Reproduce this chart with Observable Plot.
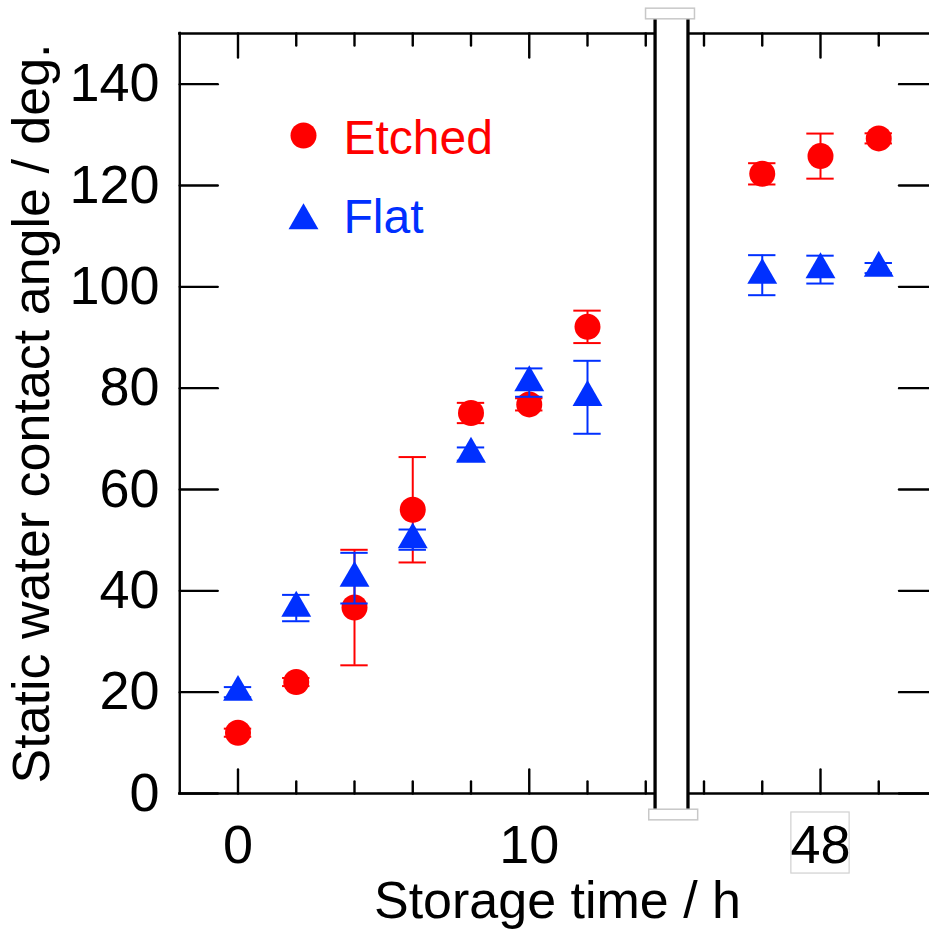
<!DOCTYPE html>
<html><head><meta charset="utf-8">
<script src="https://cdn.jsdelivr.net/npm/d3@7"></script>
<script src="https://cdn.jsdelivr.net/npm/@observablehq/plot@0.6"></script>
<style>html,body{margin:0;padding:0;background:#fff;overflow:hidden}</style>
</head><body><div id="chart"></div>
<script>
// ---- data (storage time in hours, contact angle in degrees) ----
const hours       = [0, 2, 4, 6, 8, 10, 12, 46, 48, 50];
const etchedAngle = [12.0, 22.0, 36.7, 56.0, 75.1, 76.8, 92.1, 122.3, 125.8, 129.3];
const etchedError = [0.8, 0.8, 11.4, 10.4, 2.0, 1.2, 3.2, 2.1, 4.45, 1.0];
const flatAngle   = [20.0, 36.6, 42.5, 50.1, 67.0, 81.1, 78.2, 102.3, 103.4, 103.7];
const flatError   = [1.0, 2.6, 5.0, 2.0, 1.3, 2.8, 7.2, 3.95, 2.75, 1.0];
const seriesNames = ["Etched", "Flat"];

// axis ticks
const yTickValues   = [0, 20, 40, 60, 80, 100, 120, 140];
const xTickHours    = [0, 2, 4, 6, 8, 10, 12, 14, 44, 46, 48, 50];
const xMajorHours   = [0, 10, 48];
const xTickLabels   = ["0", "10", "48"];
const xLabel = "Storage time / h";
const yLabel = "Static water contact angle / deg.";

// ---- axis break: hours 14.3 .. 43.5 are cut out ----
const breakGap = 28;
const disp = t => (t > 30 ? t - breakGap : t);
const xDomain = [-2, 24], yDomain = [0, 150];
const breakLeft = 14.32, breakRight = 15.45;

const FONT = "'Liberation Sans', Arial, Helvetica, sans-serif";
const RED = "#ff0000", BLUE = "#0030ff";

const etched = hours.map((t, i) => ({t, v: etchedAngle[i], e: etchedError[i]}));
const flat = hours.map((t, i) => ({t, v: flatAngle[i], e: flatError[i]}));

const capHalf = 0.47;
const tickShape = {draw(ctx, l) { ctx.moveTo(0, 0); ctx.lineTo(0, -l); }};
const tickLen = t => (xMajorHours.includes(t) ? 38 : 19);

function errorMarks(data, color) {
  return [
    Plot.ruleX(data, {x: d => disp(d.t), y1: d => d.v - d.e, y2: d => d.v + d.e, stroke: color, strokeWidth: 2}),
    Plot.ruleY(data, {y: d => d.v + d.e, x1: d => disp(d.t) - capHalf, x2: d => disp(d.t) + capHalf, stroke: color, strokeWidth: 2}),
    Plot.ruleY(data, {y: d => d.v - d.e, x1: d => disp(d.t) - capHalf, x2: d => disp(d.t) + capHalf, stroke: color, strokeWidth: 2})
  ];
}

const axisStyle = {stroke: "black", strokeWidth: 2.4};

const plot = Plot.plot({
  width: 929,
  height: 933,
  marginLeft: 179,
  marginRight: 0,
  marginTop: 33,
  marginBottom: 140,
  style: {fontFamily: FONT, background: "white", color: "black"},
  x: {domain: xDomain, range: [179.25, 936.5], axis: null},
  y: {domain: yDomain, axis: null},
  marks: [
    // frame
    Plot.ruleX([xDomain[0]], {x: d => d, y1: () => yDomain[0], y2: () => yDomain[1], ...axisStyle, strokeLinecap: "square"}),
    Plot.ruleX([xDomain[1]], {x: d => d, y1: () => yDomain[0], y2: () => yDomain[1], ...axisStyle}),
    Plot.ruleY([yDomain[0], yDomain[1]], {y: d => d, x1: () => xDomain[0], x2: () => xDomain[1], ...axisStyle, strokeLinecap: "square"}),
    // inward ticks
    Plot.vector(xTickHours, {x: d => disp(d), y: () => yDomain[0], length: tickLen, rotate: 0, anchor: "start", shape: tickShape, ...axisStyle}),
    Plot.vector(xTickHours, {x: d => disp(d), y: () => yDomain[1], length: tickLen, rotate: 180, anchor: "start", shape: tickShape, ...axisStyle}),
    Plot.vector(yTickValues, {y: d => d, x: () => xDomain[0], length: 38, rotate: 90, anchor: "start", shape: tickShape, ...axisStyle}),
    Plot.vector(yTickValues, {y: d => d, x: () => xDomain[1], length: 38, rotate: 270, anchor: "start", shape: tickShape, ...axisStyle}),
    // data
    ...errorMarks(etched, RED),
    Plot.dot(etched, {x: d => disp(d.t), y: "v", r: 13, fill: RED, symbol: "circle"}),
    ...errorMarks(flat, BLUE),
    Plot.dot(flat, {x: d => disp(d.t), y: "v", r: 11.1, fill: BLUE, symbol: "triangle"}),
    // axis break
    Plot.rect([0], {x1: () => breakLeft, x2: () => breakRight, y1: () => -3.2, y2: () => 152.8, fill: "white"}),
    Plot.ruleX([breakLeft, breakRight], {x: d => d, y1: () => -3.2, y2: () => 152.8, stroke: "black", strokeWidth: 3.3}),
    Plot.rect([0], {x1: () => 14.01, x2: () => 15.69, y1: () => 152.8, y2: () => 154.9, fill: "white", stroke: "#c8c8c8", strokeWidth: 1.5}),
    Plot.rect([0], {x1: () => 14.12, x2: () => 15.80, y1: () => -3.2, y2: () => -5.3, fill: "white", stroke: "#c8c8c8", strokeWidth: 1.5}),
    // box around the "48" label
    Plot.rect([0], {x1: () => disp(48) - 1, x2: () => disp(48) + 1, y1: () => -3.75, y2: () => -15.8, fill: "none", stroke: "#d0d0d0", strokeWidth: 1.2}),
    // tick labels
    Plot.text(yTickValues, {y: d => d, text: d => String(d), frameAnchor: "left", dx: -20, textAnchor: "end", lineAnchor: "middle", fontSize: 54, fill: "black"}),
    Plot.text(xMajorHours, {x: d => disp(d), text: (d, i) => xTickLabels[i], frameAnchor: "bottom", dy: 52, lineAnchor: "middle", fontSize: 54, fill: "black"}),
    // axis labels
    Plot.text([xLabel], {text: d => d, frameAnchor: "bottom", dx: 3, dy: 108, textAnchor: "middle", lineAnchor: "middle", fontSize: 52, fill: "black"}),
    Plot.text([yLabel], {text: d => d, frameAnchor: "left", dx: -147, rotate: -90, textAnchor: "middle", lineAnchor: "middle", fontSize: 52, fill: "black"}),
    // legend
    Plot.dot([0], {frameAnchor: "top-left", dx: 124, dy: 102, r: 13, fill: RED, symbol: "circle"}),
    Plot.dot([0], {frameAnchor: "top-left", dx: 124, dy: 187, r: 11.1, fill: BLUE, symbol: "triangle"}),
    Plot.text([seriesNames[0]], {text: d => d, frameAnchor: "top-left", dx: 164, dy: 105, textAnchor: "start", lineAnchor: "middle", fontSize: 48, fill: RED}),
    Plot.text([seriesNames[1]], {text: d => d, frameAnchor: "top-left", dx: 164, dy: 184, textAnchor: "start", lineAnchor: "middle", fontSize: 48, fill: BLUE})
  ]
});
document.getElementById("chart").appendChild(plot);
</script>
</body></html>
